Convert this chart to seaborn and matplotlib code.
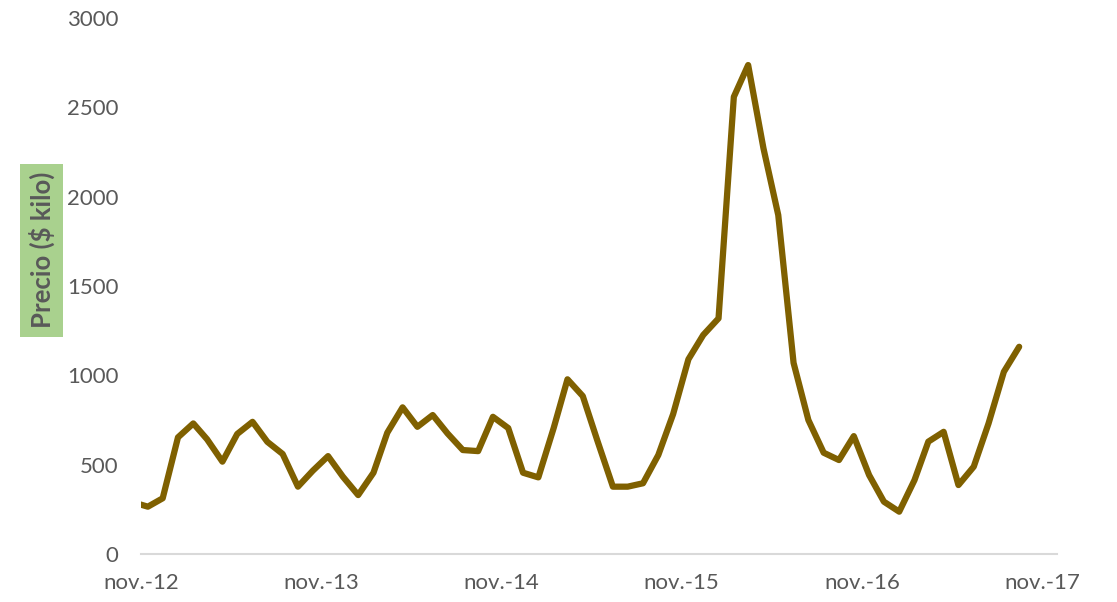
import numpy as np
import pandas as pd
import matplotlib
matplotlib.use("Agg")
import matplotlib.pyplot as plt
import matplotlib.dates as mdates
import seaborn as sns

# Monthly prices (mid-month), Oct-2012 .. Sep-2017
start_month = "2012-10-01"
precios = [290, 265, 312, 653, 731, 642, 517, 672, 740, 628, 560, 377,
           466, 548, 433, 330, 455, 679, 821, 712, 778, 675, 582, 576,
           768, 705, 455, 429, 705, 978, 884, 631, 377, 377, 396, 554,
           783, 1090, 1226, 1319, 2559, 2737, 2271, 1897, 1070, 750, 567,
           526, 660, 442, 293, 237, 414, 629, 684, 386, 489, 731, 1020, 1160]
tick_years = ["2012", "2013", "2014", "2015", "2016", "2017"]
tick_labels = ["nov.-12", "nov.-13", "nov.-14", "nov.-15", "nov.-16", "nov.-17"]
y_ticks = [0, 500, 1000, 1500, 2000, 2500, 3000]

fechas = pd.date_range(start_month, periods=len(precios), freq="MS") + pd.Timedelta(days=14)
df = pd.DataFrame({"fecha": fechas, "precio": precios})

sns.set_style("white")
plt.rcParams["font.family"] = ["Lato", "DejaVu Sans"]

fig = plt.figure(figsize=(11.17, 6.02), dpi=100)
ax = fig.add_axes([0.1262, 0.0797, 0.946 - 0.1262, 0.970 - 0.0797])

sns.lineplot(data=df, x="fecha", y="precio", ax=ax, color="#7f6000", linewidth=4.5)

ax.set_xlim(pd.Timestamp("2012-11-01"), pd.Timestamp("2017-11-30"))
ax.set_ylim(0, 3000)
ax.set_yticks(y_ticks)
ax.set_yticklabels([str(v) for v in y_ticks])
ax.set_xticks([pd.Timestamp(f"{y}-11-01") for y in tick_years])
ax.set_xticklabels(tick_labels)

for s in ["top", "right", "left"]:
    ax.spines[s].set_visible(False)
ax.spines["bottom"].set_color("#d9d9d9")
ax.spines["bottom"].set_linewidth(1.5)

ax.tick_params(axis="y", length=0, pad=16, labelsize=16, labelcolor="#595959")
ax.tick_params(axis="x", length=6, width=1.2, color="#d9d9d9", pad=8,
               labelsize=16, labelcolor="#595959", direction="out")
ax.grid(False)

ax.set_xlabel("")
ax.set_ylabel("Precio ($ kilo)", fontsize=18.5, fontweight="bold", color="#595959",
              bbox=dict(facecolor="#a9d18e", edgecolor="none", pad=6))
ax.yaxis.set_label_coords(-0.094, 0.567)

fig.savefig("out.png", dpi=100)
